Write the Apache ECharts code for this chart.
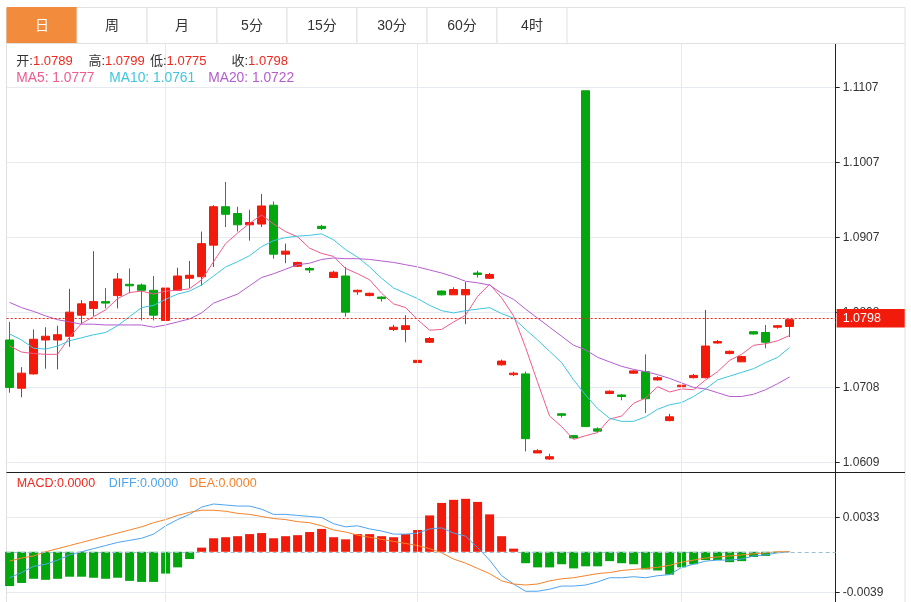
<!DOCTYPE html>
<html>
<head>
<meta charset="utf-8">
<title>日K</title>
<script src="https://cdn.jsdelivr.net/npm/echarts@6/dist/echarts.min.js"></script>
<style>
html,body{margin:0;padding:0;background:#fff;}
#main{width:911px;height:602px;}
</style>
</head>
<body>
<div id="main"></div>
<script>
// 周期选项
var tabNames = ['日', '周', '月', '5分', '15分', '30分', '60分', '4时'];

// K线 [开, 收, 低, 高]
var ohlc = [
  [1.0771, 1.0708, 1.0701, 1.0795], [1.0707, 1.0727, 1.0695, 1.0735], [1.0726, 1.0772, 1.0725, 1.0785],
  [1.0771, 1.0776, 1.0733, 1.0788], [1.0771, 1.0778, 1.0732, 1.0790], [1.0776, 1.0808, 1.0762, 1.0839],
  [1.0804, 1.0819, 1.0792, 1.0824], [1.0813, 1.0822, 1.0803, 1.0889], [1.0822, 1.0820, 1.0813, 1.0840],
  [1.0830, 1.0852, 1.0813, 1.0860], [1.0845, 1.0843, 1.0833, 1.0866], [1.0844, 1.0837, 1.0797, 1.0846],
  [1.0837, 1.0804, 1.0797, 1.0856], [1.0797, 1.0840, 1.0796, 1.0843], [1.0837, 1.0856, 1.0836, 1.0867],
  [1.0853, 1.0857, 1.0840, 1.0876], [1.0855, 1.0899, 1.0843, 1.0915], [1.0897, 1.0948, 1.0868, 1.0950],
  [1.0948, 1.0938, 1.0921, 1.0981], [1.0939, 1.0924, 1.0915, 1.0948], [1.0924, 1.0927, 1.0903, 1.0944],
  [1.0925, 1.0949, 1.0921, 1.0965], [1.0950, 1.0885, 1.0879, 1.0955], [1.0885, 1.0889, 1.0873, 1.0899],
  [1.0869, 1.0874, 1.0868, 1.0875], [1.0866, 1.0864, 1.0860, 1.0868], [1.0922, 1.0919, 1.0917, 1.0924],
  [1.0854, 1.0861, 1.0854, 1.0863], [1.0856, 1.0808, 1.0802, 1.0868], [1.0835, 1.0837, 1.0831, 1.0838],
  [1.0830, 1.0833, 1.0829, 1.0834], [1.0828, 1.0826, 1.0822, 1.0829], [1.0785, 1.0788, 1.0783, 1.0791],
  [1.0785, 1.0790, 1.0768, 1.0804], [1.0741, 1.0744, 1.0734, 1.0745], [1.0768, 1.0773, 1.0767, 1.0775],
  [1.0836, 1.0831, 1.0830, 1.0837], [1.0831, 1.0838, 1.0831, 1.0841], [1.0831, 1.0838, 1.0792, 1.0848],
  [1.0860, 1.0858, 1.0854, 1.0863], [1.0853, 1.0858, 1.0852, 1.0860], [1.0738, 1.0743, 1.0737, 1.0745],
  [1.0725, 1.0727, 1.0723, 1.0729], [1.0726, 1.0640, 1.0623, 1.0729], [1.0621, 1.0624, 1.0621, 1.0626],
  [1.0613, 1.0616, 1.0612, 1.0620], [1.0673, 1.0671, 1.0668, 1.0674], [1.0644, 1.0641, 1.0640, 1.0645],
  [1.1102, 1.0656, 1.0656, 1.1102], [1.0653, 1.0650, 1.0648, 1.0655], [1.0700, 1.0703, 1.0699, 1.0704],
  [1.0698, 1.0696, 1.0691, 1.0699], [1.0727, 1.0730, 1.0726, 1.0731], [1.0729, 1.0693, 1.0674, 1.0752],
  [1.0718, 1.0721, 1.0717, 1.0723], [1.0664, 1.0669, 1.0663, 1.0673], [1.0709, 1.0711, 1.0706, 1.0713],
  [1.0721, 1.0724, 1.0720, 1.0726], [1.0721, 1.0763, 1.0720, 1.0811], [1.0767, 1.0769, 1.0766, 1.0771],
  [1.0753, 1.0756, 1.0752, 1.0757], [1.0742, 1.0749, 1.0742, 1.0750], [1.0782, 1.0779, 1.0778, 1.0783],
  [1.0781, 1.0768, 1.0760, 1.0791], [1.0788, 1.0790, 1.0786, 1.0791], [1.0789, 1.0798, 1.0775, 1.0799]
];

var ma5 = [1.0763, 1.0755, 1.0753, 1.0752, 1.0752, 1.0775, 1.0793, 1.0802, 1.0811, 1.0826, 1.0834, 1.0836, 1.0832, 1.0836, 1.0837, 1.0839, 1.0851, 1.0875, 1.0899, 1.0913, 1.0926, 1.0937, 1.0925, 1.0915, 1.0908, 1.0893, 1.0886, 1.0882, 1.0866, 1.0859, 1.0851, 1.0833, 1.0819, 1.0814, 1.0798, 1.0784, 1.0785, 1.0795, 1.0804, 1.0829, 1.0845, 1.0827, 1.0803, 1.0761, 1.0715, 1.0670, 1.0656, 1.0639, 1.0644, 1.0648, 1.0666, 1.0670, 1.0687, 1.0694, 1.0709, 1.0702, 1.0706, 1.0705, 1.0718, 1.0729, 1.0744, 1.0752, 1.0764, 1.0766, 1.0770, 1.0777];
var ma10 = [1.0779, 1.0771, 1.0760, 1.0759, 1.0763, 1.0770, 1.0774, 1.0778, 1.0781, 1.0790, 1.0802, 1.0814, 1.0817, 1.0825, 1.0832, 1.0836, 1.0844, 1.0856, 1.0868, 1.0875, 1.0883, 1.0895, 1.0903, 1.0907, 1.0909, 1.0910, 1.0912, 1.0904, 1.0891, 1.0881, 1.0868, 1.0853, 1.0840, 1.0833, 1.0826, 1.0817, 1.0810, 1.0807, 1.0810, 1.0812, 1.0814, 1.0806, 1.0800, 1.0785, 1.0771, 1.0756, 1.0741, 1.0718, 1.0698, 1.0680, 1.0667, 1.0663, 1.0663, 1.0669, 1.0679, 1.0685, 1.0688, 1.0696, 1.0706, 1.0718, 1.0723, 1.0728, 1.0733, 1.0741, 1.0748, 1.0761];
var ma20 = [1.0821, 1.0814, 1.0809, 1.0803, 1.0798, 1.0795, 1.0792, 1.0792, 1.0791, 1.0791, 1.0791, 1.0791, 1.0788, 1.0791, 1.0795, 1.0799, 1.0807, 1.0820, 1.0826, 1.0832, 1.0843, 1.0854, 1.0859, 1.0865, 1.0871, 1.0873, 1.0878, 1.0880, 1.0879, 1.0879, 1.0878, 1.0876, 1.0874, 1.0871, 1.0868, 1.0864, 1.0860, 1.0855, 1.0849, 1.0847, 1.0844, 1.0833, 1.0825, 1.0812, 1.0800, 1.0788, 1.0776, 1.0764, 1.0758, 1.0748, 1.0742, 1.0736, 1.0732, 1.0729, 1.0725, 1.0720, 1.0714, 1.0708, 1.0706, 1.0701, 1.0696, 1.0696, 1.0699, 1.0705, 1.0713, 1.0722];

var macd = [-0.0033, -0.0030, -0.0026, -0.0027, -0.0026, -0.0024, -0.0024, -0.0025, -0.0026, -0.0025, -0.0028, -0.0029, -0.0029, -0.0021, -0.0015, -0.0007, 0.0004, 0.0013, 0.0014, 0.0015, 0.0017, 0.0018, 0.0013, 0.0015, 0.0016, 0.0019, 0.0022, 0.0014, 0.0012, 0.0017, 0.0017, 0.0015, 0.0014, 0.0017, 0.0021, 0.0035, 0.0047, 0.0050, 0.0051, 0.0048, 0.0036, 0.0015, 0.0003, -0.0011, -0.0015, -0.0015, -0.0012, -0.0016, -0.0014, -0.0014, -0.0009, -0.0011, -0.0012, -0.0017, -0.0018, -0.0022, -0.0015, -0.0012, -0.0008, -0.0008, -0.0010, -0.0009, -0.0005, -0.0004, -0.0001, 0];
var diff = [-0.0025, -0.0020, -0.0014, -0.0012, -0.0008, -0.0003, 0.0000, 0.0003, 0.0006, 0.0009, 0.0011, 0.0013, 0.0017, 0.0025, 0.0031, 0.0036, 0.0043, 0.0046, 0.0045, 0.0044, 0.0044, 0.0041, 0.0036, 0.0036, 0.0035, 0.0034, 0.0033, 0.0027, 0.0024, 0.0025, 0.0022, 0.0020, 0.0017, 0.0017, 0.0018, 0.0022, 0.0023, 0.0018, 0.0015, 0.0004, -0.0008, -0.0023, -0.0031, -0.0038, -0.0038, -0.0036, -0.0033, -0.0033, -0.0032, -0.0029, -0.0025, -0.0025, -0.0024, -0.0025, -0.0023, -0.0022, -0.0015, -0.0012, -0.0009, -0.0008, -0.0008, -0.0007, -0.0004, -0.0003, -0.0001, 0];
var dea = [-0.0009, -0.0006, -0.0004, 0.0000, 0.0003, 0.0006, 0.0009, 0.0012, 0.0015, 0.0018, 0.0021, 0.0024, 0.0028, 0.0031, 0.0035, 0.0038, 0.0040, 0.0040, 0.0039, 0.0037, 0.0036, 0.0034, 0.0032, 0.0031, 0.0029, 0.0028, 0.0025, 0.0021, 0.0019, 0.0016, 0.0014, 0.0012, 0.0010, 0.0008, 0.0006, 0.0003, -0.0001, -0.0007, -0.0011, -0.0016, -0.0021, -0.0028, -0.0031, -0.0032, -0.0031, -0.0028, -0.0026, -0.0025, -0.0023, -0.0021, -0.0020, -0.0018, -0.0017, -0.0016, -0.0015, -0.0013, -0.0010, -0.0008, -0.0006, -0.0005, -0.0004, -0.0003, -0.0002, -0.0001, 0, 0];

// 月分隔竖线所在的K线序号
var splitIdx = [13, 34, 56];
// 价格轴刻度
var priceMin = 1.06086, priceMax = 1.11066, priceStep = 0.00996;
// MACD轴刻度
var macdMin = -0.0039, macdMax = 0.00765, macdStep = 0.0072;

var UP = '#f21a0a', DOWN = '#04a60e';
var C_MA5 = '#ef5b8c', C_MA10 = '#3ec6de', C_MA20 = '#b55ccf';
var C_DIFF = '#4ea3ee', C_DEA = '#f5822a';
var GRIDC = '#e4eaf0';
var FONT = '"Liberation Sans", "Noto Sans CJK SC", sans-serif';

var xMin = -0.24, xMax = 68.84;
var last = ohlc[ohlc.length - 1];
function pt(arr) { return arr.map(function (v, i) { return [i, v]; }); }
function f4(v) { return (Math.abs(v) < 1e-9 ? 0 : v).toFixed(4); }

var chart = echarts.init(document.getElementById('main'));

var graphic = [];
graphic.push({ type: 'rect', z: 0, silent: true, shape: { x: 6.5, y: 7.5, width: 898.5, height: 640 }, style: { fill: 'none', stroke: '#e1e1e1', lineWidth: 1 } });
tabNames.forEach(function (t, k) {
  graphic.push({ type: 'rect', z: 1, silent: true, shape: { x: 7 + 70 * k, y: 7.5, width: 70, height: 36 },
    style: { fill: k === 0 ? '#f38b3d' : '#fff', stroke: k === 0 ? '#f38b3d' : '#e1e1e1', lineWidth: 1 } });
  graphic.push({ type: 'text', z: 2, silent: true, x: 42 + 70 * k, y: 26,
    style: { text: t, fill: k === 0 ? '#fff' : '#333', font: '14px ' + FONT, align: 'center', verticalAlign: 'middle', textAlign: 'center', textVerticalAlign: 'middle' } });
});
graphic.push({ type: 'line', z: 1, silent: true, shape: { x1: 6.5, y1: 43.5, x2: 905, y2: 43.5 }, style: { stroke: '#e1e1e1', lineWidth: 1 } });
graphic.push({ type: 'line', z: 10, silent: true, shape: { x1: 6.5, y1: 472.5, x2: 905, y2: 472.5 }, style: { stroke: '#1e1e1e', lineWidth: 1.2 } });

function richText(x, y, label, value, color, size, labelColor) {
  var lc = labelColor || color;
  return { type: 'text', z: 10, silent: true, x: x, y: y,
    style: { text: '{l|' + label + '}{v|' + value + '}', verticalAlign: 'middle', textVerticalAlign: 'middle',
      rich: { l: { fill: lc, color: lc, fontSize: size, fontFamily: FONT },
              v: { fill: color, color: color, fontSize: size, fontFamily: FONT } } } };
}
graphic.push(richText(16.3, 61, '开:', last[0].toFixed(4), '#f0281e', 13, '#333'));
graphic.push(richText(88.4, 61, '高:', last[3].toFixed(4), '#f0281e', 13, '#333'));
graphic.push(richText(150, 61, '低:', last[2].toFixed(4), '#f0281e', 13, '#333'));
graphic.push(richText(231.5, 61, '收:', last[1].toFixed(4), '#f0281e', 13, '#333'));
graphic.push(richText(16.3, 78.5, 'MA5: ', ma5[ma5.length - 1].toFixed(4), C_MA5, 13.8));
graphic.push(richText(109.3, 78.5, 'MA10: ', ma10[ma10.length - 1].toFixed(4), C_MA10, 13.8));
graphic.push(richText(208.2, 78.5, 'MA20: ', ma20[ma20.length - 1].toFixed(4), C_MA20, 13.8));
graphic.push(richText(16.7, 483.5, 'MACD:', f4(macd[macd.length - 1]), '#f0281e', 12.5));
graphic.push(richText(108.8, 483.5, 'DIFF:', f4(diff[diff.length - 1]), C_DIFF, 12.5));
graphic.push(richText(189.3, 483.5, 'DEA:', f4(dea[dea.length - 1]), C_DEA, 12.5));

var hiddenX = { type: 'value', min: xMin, max: xMax, show: false, splitLine: { show: false } };

option = {
  animation: false,
  textStyle: { fontFamily: FONT },
  graphic: graphic,
  grid: [
    { left: 6.7, right: 75.3, top: 43.5, bottom: 0 },
    { left: 6.7, right: 75.3, top: 87.3, bottom: 139.7 },
    { left: 6.7, right: 75.3, top: 472.3, bottom: 9.7 }
  ],
  xAxis: [
    Object.assign({ gridIndex: 0 }, hiddenX),
    Object.assign({ gridIndex: 1 }, hiddenX),
    Object.assign({ gridIndex: 2 }, hiddenX)
  ],
  yAxis: [
    { gridIndex: 0, type: 'value', min: 0, max: 1, position: 'right',
      axisLine: { show: true, onZero: false, lineStyle: { color: '#222', width: 1 } },
      axisTick: { show: false }, axisLabel: { show: false }, splitLine: { show: false } },
    { gridIndex: 1, type: 'value', min: priceMin, max: priceMax, interval: priceStep, position: 'right',
      axisLine: { show: false, onZero: false },
      axisTick: { show: true, length: 4, lineStyle: { color: '#222' } },
      axisLabel: { color: '#333', fontSize: 12, margin: 7, formatter: function (v) { return v.toFixed(4); } },
      splitLine: { show: true, lineStyle: { color: GRIDC, width: 1 } } },
    { gridIndex: 2, type: 'value', min: macdMin, max: macdMax, interval: macdStep, position: 'right',
      axisLine: { show: false, onZero: false },
      axisTick: { show: true, length: 4, lineStyle: { color: '#222' } },
      axisLabel: { color: '#333', fontSize: 12, margin: 7, formatter: function (v) { return v > 0.005 ? '' : v.toFixed(4); } },
      splitLine: { show: true, lineStyle: { color: GRIDC, width: 1 } } }
  ],
  series: [
    { name: 'frame', type: 'line', xAxisIndex: 0, yAxisIndex: 0, data: [[0, 0.5]], showSymbol: false, silent: true,
      lineStyle: { opacity: 0 },
      markLine: { silent: true, symbol: 'none', label: { show: false },
        lineStyle: { color: GRIDC, type: 'solid', width: 1 },
        data: splitIdx.map(function (i) { return { xAxis: i }; }) } },
    { name: 'K', type: 'candlestick', xAxisIndex: 1, yAxisIndex: 1, barWidth: 8,
      encode: { x: 0, y: [1, 2, 3, 4] },
      data: ohlc.map(function (d, i) { return [i].concat(d); }),
      itemStyle: { color: UP, color0: DOWN, borderColor: UP, borderColor0: DOWN, borderWidth: 1 },
      markLine: { silent: true, symbol: 'none',
        lineStyle: { color: '#f0281e', type: [2, 2], width: 1 },
        label: { show: true, position: 'end', distance: 1, color: '#fff', backgroundColor: UP,
          fontSize: 12.5, padding: [3, 6, 3, 6], width: 56, align: 'left',
          formatter: function () { return last[1].toFixed(4); } },
        data: [{ yAxis: last[1] }] } },
    { name: 'MA5', type: 'line', xAxisIndex: 1, yAxisIndex: 1, data: pt(ma5), showSymbol: false, lineStyle: { color: C_MA5, width: 1 } },
    { name: 'MA10', type: 'line', xAxisIndex: 1, yAxisIndex: 1, data: pt(ma10), showSymbol: false, lineStyle: { color: C_MA10, width: 1 } },
    { name: 'MA20', type: 'line', xAxisIndex: 1, yAxisIndex: 1, data: pt(ma20), showSymbol: false, lineStyle: { color: C_MA20, width: 1 } },
    { name: 'MACD', type: 'bar', xAxisIndex: 2, yAxisIndex: 2, barWidth: 9, data: pt(macd),
      itemStyle: { color: function (p) { return p.value[1] >= 0 ? UP : DOWN; } },
      markLine: { silent: true, symbol: 'none', label: { show: false },
        lineStyle: { color: '#9dbfd2', type: [4, 3], width: 1 },
        data: [{ yAxis: 0 }] } },
    { name: 'DIFF', type: 'line', xAxisIndex: 2, yAxisIndex: 2, data: pt(diff), showSymbol: false, lineStyle: { color: C_DIFF, width: 1 } },
    { name: 'DEA', type: 'line', xAxisIndex: 2, yAxisIndex: 2, data: pt(dea), showSymbol: false, lineStyle: { color: C_DEA, width: 1 } }
  ]
};

chart.setOption(option);
</script>
</body>
</html>
